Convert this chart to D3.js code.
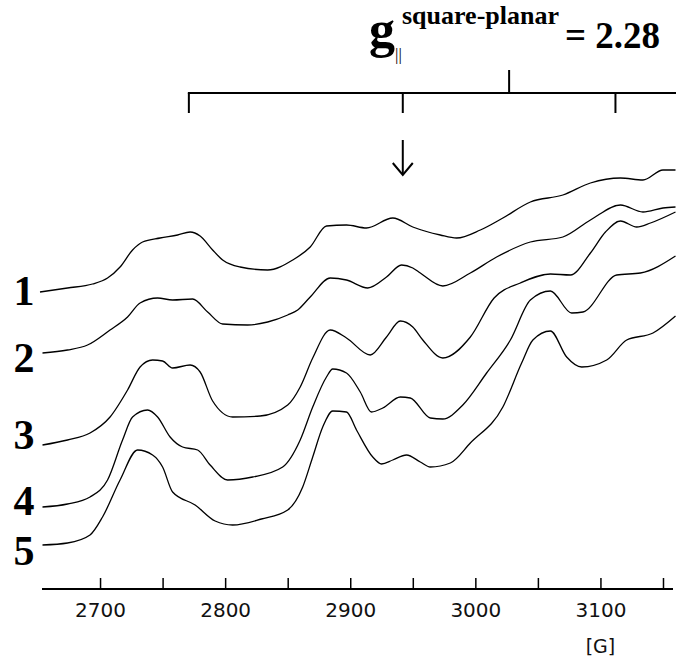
<!DOCTYPE html>
<html>
<title>EPR spectra</title>
<meta charset="UTF-8">

<head>
    <style>
        body { margin: 0; background: #fff; }
        .tick text { font-family: "DejaVu Sans", sans-serif; font-size: 20px; fill: #111; }
        .num { font-family: "Liberation Serif", serif; font-weight: bold; font-size: 42px; text-anchor: middle; }
        .ttl { font-family: "Liberation Serif", serif; font-weight: bold; fill: #000; }
    </style>
</head>

<body>
    <script src="https://d3js.org/d3.v7.min.js"></script>
    <svg id="svg" width=676 height=658></svg>

    <script type="text/javascript">
        // field in gauss, intensity in arbitrary units (traces offset)
        const field1 = [2652, 2674, 2694, 2706, 2716, 2726, 2734, 2748, 2762, 2772, 2780, 2790, 2798, 2812, 2834, 2854, 2868, 2881, 2897, 2913, 2934, 2950, 2972, 2985, 3004, 3022, 3044, 3070, 3092, 3116, 3134, 3150, 3160];
        const trace1 = [59.4, 60.2, 61.0, 62.2, 64.4, 67.8, 69.4, 70.2, 70.8, 71.4, 70.6, 67.8, 65.8, 64.4, 63.8, 65.8, 68.4, 72.6, 72.8, 72.2, 74.2, 72.4, 70.8, 70.2, 71.8, 74.2, 77.4, 78.8, 81.2, 82.2, 81.8, 83.8, 83.8];

        const field2 = [2654, 2674, 2690, 2708, 2722, 2732, 2746, 2758, 2774, 2786, 2798, 2818, 2834, 2850, 2858, 2868, 2884, 2897, 2914, 2929, 2941, 2950, 2956, 2974, 2996, 3017, 3044, 3070, 3092, 3116, 3134, 3150, 3160];
        const trace2 = [47.2, 47.8, 48.8, 51.8, 54.4, 57.2, 58.2, 57.8, 58.0, 55.4, 53.0, 52.8, 53.4, 54.8, 55.8, 58.4, 62.2, 61.8, 60.2, 62.4, 64.8, 64.2, 63.2, 60.6, 63.2, 66.4, 69.4, 70.4, 73.8, 76.8, 75.4, 76.2, 76.4];

        const field3 = [2654, 2674, 2692, 2708, 2722, 2732, 2742, 2750, 2758, 2772, 2780, 2790, 2806, 2828, 2850, 2860, 2870, 2884, 2897, 2916, 2929, 2940, 2950, 2958, 2974, 2996, 3015, 3036, 3060, 3076, 3092, 3104, 3116, 3129, 3140, 3160];
        const trace3 = [28.8, 29.8, 31.2, 34.4, 39.8, 44.4, 45.8, 45.6, 44.2, 44.8, 43.4, 37.6, 34.4, 34.6, 36.8, 40.4, 46.2, 51.8, 50.2, 46.8, 50.4, 53.6, 52.4, 49.8, 46.2, 50.4, 58.2, 61.2, 63.0, 62.8, 67.2, 71.4, 73.6, 72.4, 73.2, 75.4];

        const field4 = [2654, 2674, 2692, 2706, 2718, 2726, 2738, 2746, 2756, 2766, 2778, 2788, 2802, 2822, 2846, 2860, 2870, 2881, 2886, 2897, 2908, 2917, 2926, 2940, 2948, 2964, 2974, 2990, 3009, 3028, 3044, 3060, 3077, 3086, 3113, 3132, 3160];
        const trace4 = [16.4, 17.0, 18.4, 21.8, 29.8, 34.4, 35.8, 34.4, 30.4, 28.4, 27.8, 24.8, 21.8, 22.4, 24.4, 29.8, 36.4, 42.4, 44.0, 43.2, 39.4, 35.4, 36.2, 38.4, 38.2, 34.2, 34.0, 36.8, 43.2, 49.8, 57.8, 59.6, 55.2, 55.4, 62.8, 63.2, 66.6];

        const field5 = [2654, 2674, 2692, 2702, 2716, 2730, 2742, 2750, 2758, 2776, 2792, 2806, 2829, 2850, 2862, 2870, 2878, 2886, 2897, 2905, 2918, 2925, 2934, 2945, 2956, 2964, 2980, 2996, 3022, 3037, 3046, 3060, 3073, 3085, 3105, 3121, 3142, 3160];
        const trace5 = [8.8, 9.2, 10.8, 14.4, 21.8, 27.8, 26.8, 24.4, 19.4, 16.8, 13.6, 12.8, 14.0, 15.8, 20.4, 26.4, 32.4, 35.6, 35.4, 31.8, 26.4, 25.0, 25.8, 26.8, 25.4, 24.4, 25.2, 29.2, 36.4, 45.2, 49.8, 51.6, 46.4, 44.4, 45.8, 49.8, 51.2, 54.6];

        const traceNames = ["1", "2", "3", "4", "5"];
        const xTicks = [2700, 2750, 2800, 2850, 2900, 2950, 3000, 3050, 3100, 3150];
        const xLabels = [2700, 2800, 2900, 3000, 3100];
        const hyperfine = [2771, 2942, 3112, 3283];
        const gCenter = 3027;
        const arrowAt = 2942;

        var svg = d3.select('svg');
        var x = d3.scaleLinear().domain([2653.6, 3160.4]).range([42, 676]),
            y = d3.scaleLinear().domain([0, 100]).range([589, 89]);

        var fields = [field1, field2, field3, field4, field5],
            traces = [trace1, trace2, trace3, trace4, trace5];

        var line = d3.line().x(d => x(d[0])).y(d => y(d[1])).curve(d3.curveMonotoneX);

        for (var i = 0; i < 5; i++) {
            var pts = d3.zip(fields[i], traces[i]);
            svg.append("path").attr("d", line(pts)).attr("fill", "none").attr("stroke", "#000").attr("stroke-width", 1.3);
            svg.append("text").attr("class", "num").attr("x", 24).attr("y", y(traces[i][0]) + [13, 19, 4, 8, 20][i]).text(traceNames[i]);
        }

        // field axis
        var axis = d3.axisBottom(x).tickValues(xTicks).tickSizeInner(-11).tickSizeOuter(0).tickPadding(14)
            .tickFormat(d => xLabels.indexOf(d) >= 0 ? d : "");
        var ga = svg.append("g").attr("transform", "translate(0," + y(0) + ")").call(axis);
        ga.select(".domain").attr("stroke", "#000").attr("stroke-width", 2).attr("d", "M42,0H673");
        ga.selectAll(".tick line").attr("stroke", "#000").attr("stroke-width", 1.5);
        svg.append("text").attr("x", x(3100)).attr("y", 653).attr("text-anchor", "middle")
            .style("font-family", "DejaVu Sans").style("font-size", "19px").attr("fill", "#111").text("[G]");

        // hyperfine stick pattern
        var gb = svg.append("g").attr("stroke", "#000").attr("stroke-width", 2);
        gb.append("line").attr("x1", x(hyperfine[0]) - 1).attr("x2", 676).attr("y1", 93).attr("y2", 93);
        hyperfine.forEach(function (h) {
            gb.append("line").attr("x1", x(h)).attr("x2", x(h)).attr("y1", 93).attr("y2", 113);
        });
        gb.append("line").attr("x1", x(gCenter)).attr("x2", x(gCenter)).attr("y1", 70).attr("y2", 93);

        // arrow
        var ax = x(arrowAt);
        gb.append("line").attr("x1", ax).attr("x2", ax).attr("y1", 140).attr("y2", 174);
        gb.append("path").attr("d", "M" + (ax - 10) + ",163L" + ax + ",175L" + (ax + 10) + ",163").attr("fill", "none");

        // title
        svg.append("text").attr("class", "ttl").attr("x", 369).attr("y", 47).style("font-size", "52px").text("g");
        svg.append("text").attr("x", 395).attr("y", 60).attr("fill", "#000").style("font-family", "Liberation Serif").style("font-size", "17px").text("||");
        svg.append("text").attr("class", "ttl").attr("x", 402).attr("y", 24).style("font-size", "26px").text("square-planar");
        svg.append("text").attr("class", "ttl").attr("x", 565).attr("y", 48).style("font-size", "37px").text("= 2.28");
    </script>
</body>
</html>
